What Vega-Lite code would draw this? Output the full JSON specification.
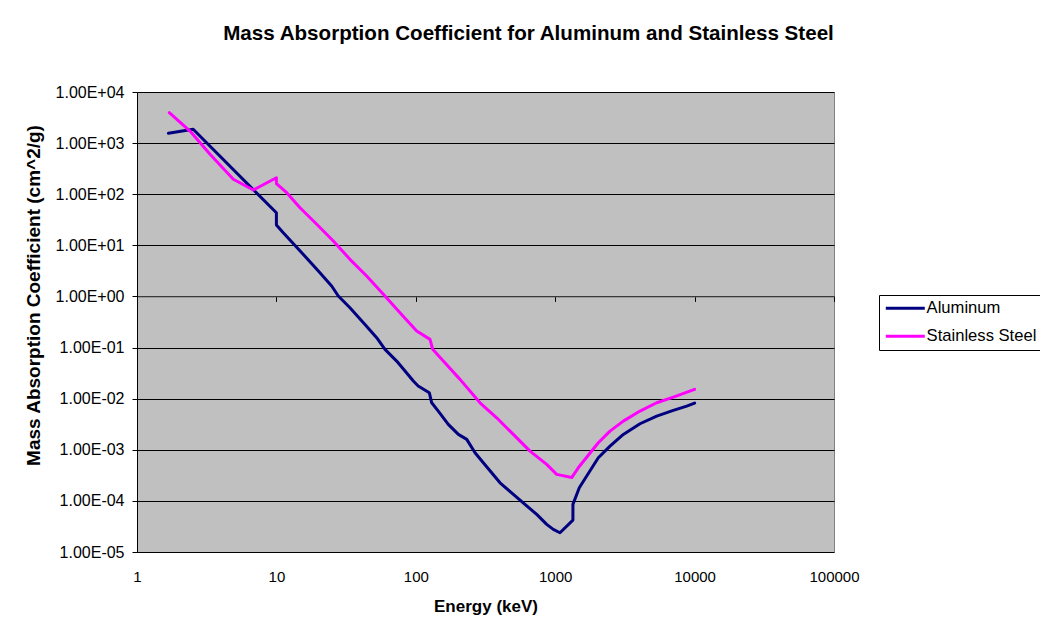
{
  "$schema": "https://vega.github.io/schema/vega-lite/v6.json",
  "autosize": {"type": "none"},
  "width": 697,
  "height": 460,
  "padding": {"left": 137, "top": 92, "right": 206, "bottom": 84},
  "background": "white",
  "config": {
    "font": "Liberation Sans",
    "view": {"fill": "#C0C0C0", "stroke": "#808080", "strokeWidth": 1}
  },
  "title": {
    "text": "Mass Absorption Coefficient for Aluminum and Stainless Steel",
    "font": "Liberation Sans",
    "fontSize": 20.6,
    "fontWeight": "bold",
    "color": "black",
    "anchor": "middle",
    "frame": "group",
    "dx": 43,
    "offset": 39
  },
  "data": {
    "values": [
      {"i": 1, "s": "Aluminum", "e": 1.68, "mu": 1555},
      {"i": 2, "s": "Aluminum", "e": 2.53, "mu": 1862},
      {"i": 3, "s": "Aluminum", "e": 10, "mu": 43.4},
      {"i": 4, "s": "Aluminum", "e": 10, "mu": 25.0},
      {"i": 5, "s": "Aluminum", "e": 11.2, "mu": 17.6},
      {"i": 6, "s": "Aluminum", "e": 15.2, "mu": 7.17},
      {"i": 7, "s": "Aluminum", "e": 20.0, "mu": 3.14},
      {"i": 8, "s": "Aluminum", "e": 24.9, "mu": 1.6},
      {"i": 9, "s": "Aluminum", "e": 27.8, "mu": 1.02},
      {"i": 10, "s": "Aluminum", "e": 33.7, "mu": 0.601},
      {"i": 11, "s": "Aluminum", "e": 43.2, "mu": 0.284},
      {"i": 12, "s": "Aluminum", "e": 52.4, "mu": 0.156},
      {"i": 13, "s": "Aluminum", "e": 60.1, "mu": 0.0922},
      {"i": 14, "s": "Aluminum", "e": 72.9, "mu": 0.0544},
      {"i": 15, "s": "Aluminum", "e": 83.7, "mu": 0.0347},
      {"i": 16, "s": "Aluminum", "e": 96.0, "mu": 0.0221},
      {"i": 17, "s": "Aluminum", "e": 104, "mu": 0.0177},
      {"i": 18, "s": "Aluminum", "e": 125, "mu": 0.0131},
      {"i": 19, "s": "Aluminum", "e": 130, "mu": 0.0083},
      {"i": 20, "s": "Aluminum", "e": 145, "mu": 0.00572},
      {"i": 21, "s": "Aluminum", "e": 171, "mu": 0.00314},
      {"i": 22, "s": "Aluminum", "e": 202, "mu": 0.002},
      {"i": 23, "s": "Aluminum", "e": 232, "mu": 0.0016},
      {"i": 24, "s": "Aluminum", "e": 266, "mu": 0.000874},
      {"i": 25, "s": "Aluminum", "e": 305, "mu": 0.000556},
      {"i": 26, "s": "Aluminum", "e": 402, "mu": 0.000226},
      {"i": 27, "s": "Aluminum", "e": 501, "mu": 0.000134},
      {"i": 28, "s": "Aluminum", "e": 607, "mu": 0.0000854},
      {"i": 29, "s": "Aluminum", "e": 737, "mu": 0.0000544},
      {"i": 30, "s": "Aluminum", "e": 869, "mu": 0.0000347},
      {"i": 31, "s": "Aluminum", "e": 969, "mu": 0.0000277},
      {"i": 32, "s": "Aluminum", "e": 1082, "mu": 0.0000238},
      {"i": 33, "s": "Aluminum", "e": 1340, "mu": 0.0000421},
      {"i": 34, "s": "Aluminum", "e": 1340, "mu": 0.0000854},
      {"i": 35, "s": "Aluminum", "e": 1489, "mu": 0.0001805},
      {"i": 36, "s": "Aluminum", "e": 1683, "mu": 0.000306},
      {"i": 37, "s": "Aluminum", "e": 2038, "mu": 0.000697},
      {"i": 38, "s": "Aluminum", "e": 2473, "mu": 0.00118},
      {"i": 39, "s": "Aluminum", "e": 3080, "mu": 0.002},
      {"i": 40, "s": "Aluminum", "e": 4058, "mu": 0.00323},
      {"i": 41, "s": "Aluminum", "e": 5347, "mu": 0.00457},
      {"i": 42, "s": "Aluminum", "e": 7035, "mu": 0.0059},
      {"i": 43, "s": "Aluminum", "e": 8777, "mu": 0.00716},
      {"i": 44, "s": "Aluminum", "e": 10000, "mu": 0.0082},
      {"i": 1, "s": "Stainless Steel", "e": 1.705, "mu": 3935},
      {"i": 2, "s": "Stainless Steel", "e": 2.4, "mu": 1725},
      {"i": 3, "s": "Stainless Steel", "e": 3.34, "mu": 604},
      {"i": 4, "s": "Stainless Steel", "e": 4.91, "mu": 196},
      {"i": 5, "s": "Stainless Steel", "e": 6.83, "mu": 121},
      {"i": 6, "s": "Stainless Steel", "e": 10, "mu": 210},
      {"i": 7, "s": "Stainless Steel", "e": 10, "mu": 160.6},
      {"i": 8, "s": "Stainless Steel", "e": 11.86, "mu": 107},
      {"i": 9, "s": "Stainless Steel", "e": 14.77, "mu": 54.4},
      {"i": 10, "s": "Stainless Steel", "e": 19.46, "mu": 25.8},
      {"i": 11, "s": "Stainless Steel", "e": 25.6, "mu": 12.14},
      {"i": 12, "s": "Stainless Steel", "e": 33.7, "mu": 5.32},
      {"i": 13, "s": "Stainless Steel", "e": 44.4, "mu": 2.507},
      {"i": 14, "s": "Stainless Steel", "e": 58.5, "mu": 1.099},
      {"i": 15, "s": "Stainless Steel", "e": 77.0, "mu": 0.48},
      {"i": 16, "s": "Stainless Steel", "e": 101.5, "mu": 0.21},
      {"i": 17, "s": "Stainless Steel", "e": 126.5, "mu": 0.1447},
      {"i": 18, "s": "Stainless Steel", "e": 132.2, "mu": 0.0922},
      {"i": 19, "s": "Stainless Steel", "e": 157.5, "mu": 0.0544},
      {"i": 20, "s": "Stainless Steel", "e": 207.6, "mu": 0.02386},
      {"i": 21, "s": "Stainless Steel", "e": 288.8, "mu": 0.00831},
      {"i": 22, "s": "Stainless Steel", "e": 380.4, "mu": 0.00423},
      {"i": 23, "s": "Stainless Steel", "e": 500.6, "mu": 0.002},
      {"i": 24, "s": "Stainless Steel", "e": 659.6, "mu": 0.000943},
      {"i": 25, "s": "Stainless Steel", "e": 868.9, "mu": 0.000518},
      {"i": 26, "s": "Stainless Steel", "e": 1025, "mu": 0.00033},
      {"i": 27, "s": "Stainless Steel", "e": 1313, "mu": 0.000286},
      {"i": 28, "s": "Stainless Steel", "e": 1464, "mu": 0.000444},
      {"i": 29, "s": "Stainless Steel", "e": 2038, "mu": 0.00137},
      {"i": 30, "s": "Stainless Steel", "e": 2473, "mu": 0.00232},
      {"i": 31, "s": "Stainless Steel", "e": 3080, "mu": 0.00364},
      {"i": 32, "s": "Stainless Steel", "e": 4058, "mu": 0.00572},
      {"i": 33, "s": "Stainless Steel", "e": 5347, "mu": 0.00831},
      {"i": 34, "s": "Stainless Steel", "e": 7035, "mu": 0.01075},
      {"i": 35, "s": "Stainless Steel", "e": 10000, "mu": 0.0152}
    ]
  },
  "mark": {"type": "line", "strokeWidth": 3, "strokeJoin": "round", "strokeCap": "round"},
  "encoding": {
    "x": {
      "field": "e",
      "type": "quantitative",
      "scale": {"type": "log", "domain": [1, 100000], "nice": false},
      "axis": {
        "title": "Energy (keV)",
        "titleFont": "Liberation Sans",
        "titleFontSize": 17,
        "titleFontWeight": "bold",
        "titleColor": "black",
        "titleBaseline": "middle",
        "titleY": 310,
        "values": [1, 10, 100, 1000, 10000, 100000],
        "format": "d",
        "labelFont": "Liberation Sans",
        "labelFontSize": 15,
        "labelColor": "black",
        "labelFlush": false,
        "labelOverlap": false,
        "offset": -255.6,
        "domainColor": "#606060",
        "domainWidth": 1,
        "tickColor": "black",
        "tickSize": 5,
        "labelPadding": 268,
        "grid": false
      }
    },
    "y": {
      "field": "mu",
      "type": "quantitative",
      "scale": {"type": "log", "domain": [0.00001, 10000], "nice": false},
      "axis": {
        "title": "Mass Absorption Coefficient (cm^2/g)",
        "titleFont": "Liberation Sans",
        "titleFontSize": 19,
        "titleFontWeight": "bold",
        "titleColor": "black",
        "titlePadding": 12,
        "titleY": 203,
        "titleAnchor": null,
        "values": [0.00001, 0.0001, 0.001, 0.01, 0.1, 1, 10, 100, 1000, 10000],
        "labelExpr": "'1.00E' + (round(log(datum.value)/LN10) < 0 ? '-' : '+') + pad(toString(abs(round(log(datum.value)/LN10))), 2, '0', 'left')",
        "labelFont": "Liberation Sans",
        "labelFontSize": 16,
        "labelColor": "black",
        "labelFlush": false,
        "labelOverlap": false,
        "labelPadding": 8,
        "tickColor": "black",
        "tickSize": 5,
        "domainColor": "black",
        "grid": true,
        "gridColor": "black",
        "gridWidth": 1,
        "gridOpacity": 1
      }
    },
    "color": {
      "field": "s",
      "type": "nominal",
      "scale": {"domain": ["Aluminum", "Stainless Steel"], "range": ["#000080", "#FF00FF"]},
      "legend": {
        "title": null,
        "orient": "none",
        "legendX": 742,
        "legendY": 203,
        "strokeColor": "black",
        "fillColor": "white",
        "padding": 5,
        "symbolType": "M-4,0H4",
        "symbolSize": 95,
        "symbolStrokeWidth": 3,
        "symbolOffset": 13,
        "labelFont": "Liberation Sans",
        "labelFontSize": 16.6,
        "labelColor": "black",
        "labelOffset": 13,
        "labelLimit": 300,
        "rowPadding": 11
      }
    },
    "order": {"field": "i", "type": "quantitative"}
  }
}
